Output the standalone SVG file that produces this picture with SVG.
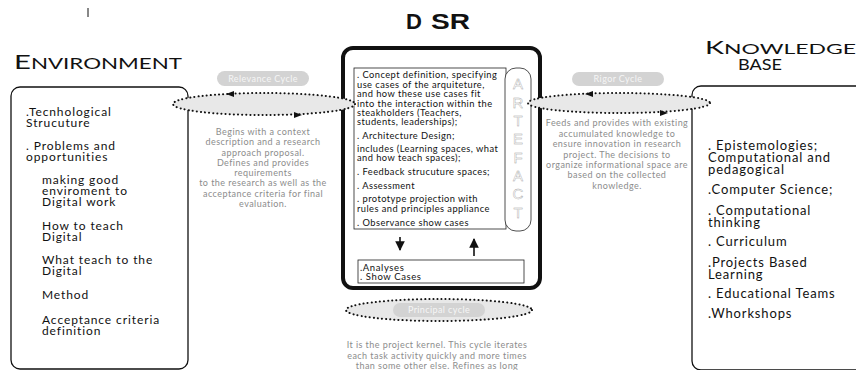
<svg xmlns="http://www.w3.org/2000/svg" width="856" height="370" viewBox="0 0 856 370">
<defs>
<style>
.t{font-family:"Lato","Open Sans","Liberation Sans",sans-serif;fill:#111}
.box{fill:#fff;stroke:#111;stroke-width:1.3}
.ell{fill:#e8e8e8;stroke:#111;stroke-width:2;stroke-dasharray:0.1 4;stroke-linecap:round}
.pill{fill:#d3d3d3}
.pt{font-family:"Lato","Open Sans","Liberation Sans",sans-serif;font-size:9px;fill:#f6f6f6;text-anchor:middle;letter-spacing:0.4px}
.g{font-family:"Lato","Open Sans","Liberation Sans",sans-serif;font-size:9px;fill:#8c8c8c;text-anchor:middle;letter-spacing:0.45px}
.lt{font-size:12px;letter-spacing:0.9px}
.rt{font-size:13px;letter-spacing:0.85px}
.dt{font-size:9.3px;letter-spacing:0.45px}
.art{font-family:"Liberation Sans",sans-serif;font-size:15px;fill:#fff;stroke:#a0a0a0;stroke-width:0.4;text-anchor:middle}
</style>
<marker id="ah" viewBox="0 0 10 10" refX="9" refY="5" markerWidth="6" markerHeight="6" orient="auto"><path d="M0,0 L10,5 L0,10 z" fill="#111"/></marker>
</defs>
<line x1="88" y1="8" x2="88" y2="17" stroke="#111" stroke-width="1"/>

<g id="title-dsr"><text x="406" y="29" font-family="Liberation Sans,sans-serif" font-size="22" font-weight="bold" fill="#111"><tspan>D</tspan> <tspan x="431" textLength="39" lengthAdjust="spacingAndGlyphs">SR</tspan></text></g>

<g id="environment">
<text class="t" x="14" y="69" textLength="168" lengthAdjust="spacingAndGlyphs"><tspan font-size="19">E</tspan><tspan font-size="14.5">NVIRONMENT</tspan></text>
<rect class="box" x="11" y="87" width="177" height="282" rx="9"/>
<text class="t lt"><tspan x="26" y="116">.Tecnhological</tspan><tspan x="26" y="127">Strucuture</tspan></text>
<text class="t lt"><tspan x="26" y="150">. Problems and</tspan><tspan x="26" y="161">opportunities</tspan></text>
<text class="t lt"><tspan x="42" y="184">making good</tspan><tspan x="42" y="195">enviroment to</tspan><tspan x="42" y="206">Digital work</tspan></text>
<text class="t lt"><tspan x="42" y="230">How to teach</tspan><tspan x="42" y="241">Digital</tspan></text>
<text class="t lt"><tspan x="42" y="264">What teach to the</tspan><tspan x="42" y="275">Digital</tspan></text>
<text class="t lt" x="42" y="299">Method</text>
<text class="t lt"><tspan x="42" y="324">Acceptance criteria</tspan><tspan x="42" y="335">definition</tspan></text>
</g>

<g id="knowledge-base">
<text class="t" x="705" y="54" textLength="151" lengthAdjust="spacingAndGlyphs"><tspan font-size="17.5">K</tspan><tspan font-size="14">NOWLEDGE</tspan></text>
<text class="t" x="760" y="70" font-size="14.5" text-anchor="middle" textLength="44" lengthAdjust="spacingAndGlyphs">BASE</text>
<rect class="box" x="692" y="86" width="180" height="284" rx="9"/>
<text class="t rt"><tspan x="708" y="150">. Epistemologies;</tspan><tspan x="708" y="162">Computational and</tspan><tspan x="708" y="174">pedagogical</tspan></text>
<text class="t rt" x="708" y="194">.Computer Science;</text>
<text class="t rt"><tspan x="708" y="215">. Computational</tspan><tspan x="708" y="227">thinking</tspan></text>
<text class="t rt" x="708" y="246">. Curriculum</text>
<text class="t rt"><tspan x="708" y="267">.Projects Based</tspan><tspan x="708" y="279">Learning</tspan></text>
<text class="t rt" x="708" y="298">. Educational Teams</text>
<text class="t rt" x="708" y="318">.Whorkshops</text>
</g>

<g id="dsr">
<rect x="343" y="48" width="197" height="240" rx="10" fill="#fff" stroke="#111" stroke-width="4"/>
<rect x="354" y="68" width="152" height="161" fill="#fff" stroke="#222" stroke-width="0.8"/>
<rect x="505" y="68" width="26" height="163" rx="11" fill="#fff" stroke="#222" stroke-width="0.8"/>
<text class="t dt"><tspan x="357" y="78">. Concept definition, specifying</tspan><tspan x="357" y="88">use cases of the arquiteture,</tspan><tspan x="357" y="97">and how these use cases fit</tspan><tspan x="357" y="107">into the interaction within the</tspan><tspan x="357" y="116">steakholders (Teachers,</tspan><tspan x="357" y="125">students, leaderships);</tspan></text>
<text class="t dt" x="357" y="139">. Architecture Design;</text>
<text class="t dt"><tspan x="357" y="152">includes (Learning spaces, what</tspan><tspan x="357" y="161">and how teach spaces);</tspan></text>
<text class="t dt" x="357" y="175">. Feedback strucuture spaces;</text>
<text class="t dt" x="357" y="189">. Assessment</text>
<text class="t dt"><tspan x="357" y="202">. prototype projection with</tspan><tspan x="357" y="212">rules and principles appliance</tspan></text>
<text class="t dt" x="357" y="226">. Observance show cases</text>
<text class="art"><tspan x="518" y="89">A</tspan><tspan x="518" y="108">R</tspan><tspan x="518" y="126">T</tspan><tspan x="518" y="144">E</tspan><tspan x="518" y="163">F</tspan><tspan x="518" y="181">A</tspan><tspan x="518" y="199">C</tspan><tspan x="518" y="218">T</tspan></text>
<rect x="358" y="260" width="166" height="23" fill="#fff" stroke="#222" stroke-width="0.8"/>
<text class="t" font-size="9.5" letter-spacing="0.6"><tspan x="360" y="271">.Analyses</tspan><tspan x="360" y="280">. Show Cases</tspan></text>
</g>

<g id="connectors">
<line x1="400" y1="237" x2="400" y2="250" stroke="#111" stroke-width="1.6" marker-end="url(#ah)"/>
<line x1="474" y1="256" x2="474" y2="239" stroke="#111" stroke-width="1.6" marker-end="url(#ah)"/>
</g>

<g id="relevance-cycle">
<ellipse class="ell" cx="264" cy="104" rx="91" ry="11"/>
<path d="M226,94 l8,-3 v6 z" fill="#111"/>
<path d="M302,115 l-8,-3 v6 z" fill="#111"/>
<rect class="pill" x="217" y="71" width="92" height="15" rx="7.5"/>
<text class="pt" x="263" y="82">Relevance Cycle</text>
<text class="g"><tspan x="263" y="135">Begins with a context</tspan><tspan x="263" y="145">description and a research</tspan><tspan x="263" y="156">approach proposal.</tspan><tspan x="263" y="166">Defines and provides</tspan><tspan x="263" y="176">requirements</tspan><tspan x="263" y="186">to the research as well as the</tspan><tspan x="263" y="197">acceptance criteria for final</tspan><tspan x="263" y="207">evaluation.</tspan></text>
</g>

<g id="rigor-cycle">
<ellipse class="ell" cx="619" cy="103" rx="91" ry="10"/>
<path d="M585,94 l8,-3 v6 z" fill="#111"/>
<path d="M668,113 l-8,-3 v6 z" fill="#111"/>
<rect class="pill" x="572" y="72" width="92" height="14" rx="7"/>
<text class="pt" x="618" y="82">Rigor Cycle</text>
<text class="g"><tspan x="617" y="126">Feeds and provides with existing</tspan><tspan x="617" y="137">accumulated knowledge to</tspan><tspan x="617" y="147">ensure innovation in research</tspan><tspan x="617" y="158">project. The decisions to</tspan><tspan x="617" y="168">organize informational space are</tspan><tspan x="617" y="178">based on the collected</tspan><tspan x="617" y="189">knowledge.</tspan></text>
</g>

<g id="principal-cycle">
<ellipse class="ell" cx="439" cy="310" rx="93" ry="11"/>
<rect class="pill" x="393" y="303" width="92" height="14" rx="7"/>
<text class="pt" x="439" y="313">Principal cycle</text>
<text class="g"><tspan x="437" y="348">It is the project kernel. This cycle iterates</tspan><tspan x="437" y="359">each task activity quickly and more times</tspan><tspan x="437" y="369">than some other else. Refines as long</tspan></text>
</g>
</svg>
